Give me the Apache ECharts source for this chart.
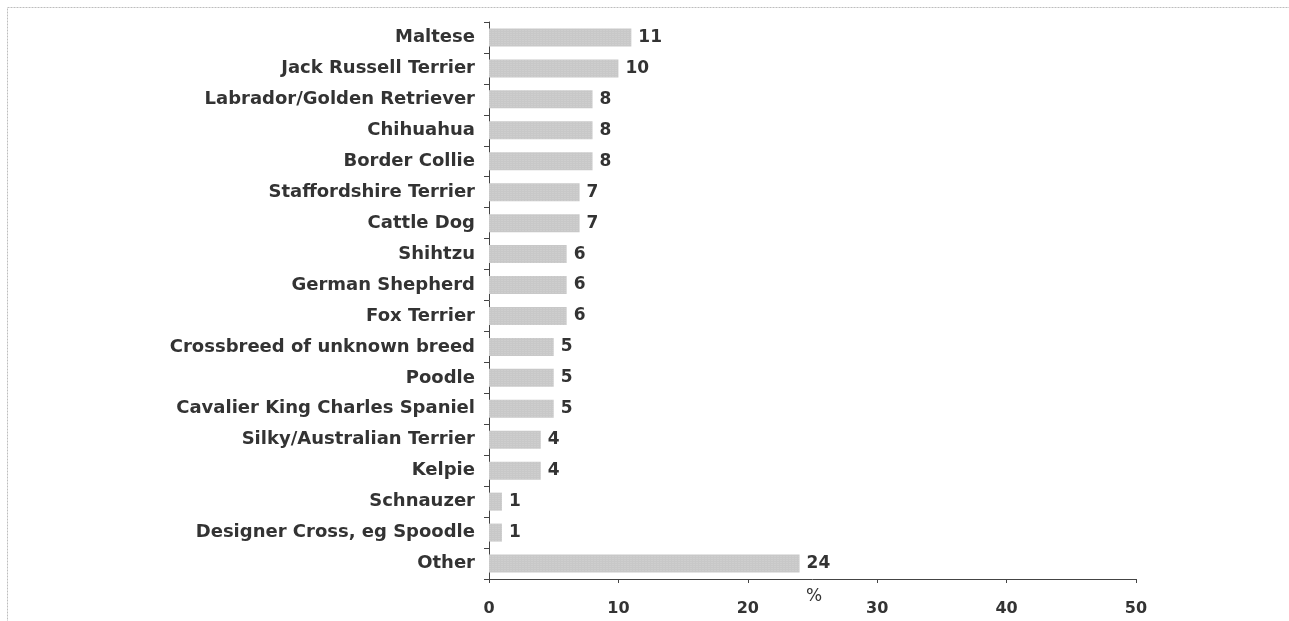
<!DOCTYPE html>
<html>
<head>
<meta charset="utf-8">
<script src="https://cdn.jsdelivr.net/npm/echarts@6/dist/echarts.min.js"></script>
<style>
  html, body { margin: 0; padding: 0; background: #fff; }
  #chart { width: 1289px; height: 621px; }
</style>
</head>
<body>
<div id="chart"></div>
<script>
// breeds, top to bottom as in the picture
const breeds = [
  'Maltese', 'Jack Russell Terrier', 'Labrador/Golden Retriever', 'Chihuahua',
  'Border Collie', 'Staffordshire Terrier', 'Cattle Dog', 'Shihtzu',
  'German Shepherd', 'Fox Terrier', 'Crossbreed of unknown breed', 'Poodle',
  'Cavalier King Charles Spaniel', 'Silky/Australian Terrier', 'Kelpie',
  'Schnauzer', 'Designer Cross, eg Spoodle', 'Other'
];
const percents = [11, 10, 8, 8, 8, 7, 7, 6, 6, 6, 5, 5, 5, 4, 4, 1, 1, 24];
const xTicks = [0, 10, 20, 30, 40, 50];

const chart = echarts.init(document.getElementById('chart'));

const font = '"DejaVu Sans", sans-serif';

chart.setOption({
  animation: false,
  backgroundColor: '#fff',
  graphic: [{
    type: 'rect',
    shape: {x: 7.5, y: 7.5, width: 1400, height: 700},
    style: {fill: 'none', stroke: '#bdbdbd', lineWidth: 1, lineDash: [2, 1]},
    silent: true
  }, {
    type: 'text',
    left: 806,
    top: 588,
    style: {text: '%', font: '17px ' + font, fill: '#333'}
  }],
  grid: {left: 489, right: 153, top: 22, bottom: 42, containLabel: false},
  xAxis: {
    type: 'value',
    min: xTicks[0],
    max: xTicks[xTicks.length - 1],
    interval: 10,
    splitLine: {show: false},
    axisLine: {show: true, lineStyle: {color: '#444', width: 1}},
    axisTick: {show: true, length: 4, lineStyle: {color: '#444'}},
    axisLabel: {
      margin: 22,
      fontFamily: font, fontWeight: 'bold', fontSize: 16, color: '#333'
    }
  },
  yAxis: {
    type: 'category',
    data: breeds,
    inverse: true,
    axisLine: {show: true, lineStyle: {color: '#444', width: 1}},
    axisTick: {show: true, length: 5, lineStyle: {color: '#444'}},
    axisLabel: {
      margin: 14,
      fontFamily: font, fontWeight: 'bold', fontSize: 18, color: '#333'
    }
  },
  series: [{
    type: 'bar',
    data: percents,
    barWidth: 18,
    itemStyle: {
      color: '#c8c8c8',
      decal: {
        symbol: 'rect',
        symbolSize: 0.5,
        dashArrayX: [2, 1],
        dashArrayY: [1, 1],
        rotation: 0,
        color: 'rgba(238,238,238,0.7)'
      }
    },
    label: {
      show: true,
      position: 'right',
      distance: 7,
      fontFamily: font, fontWeight: 'bold', fontSize: 17, color: '#333'
    }
  }]
});
</script>
</body>
</html>
